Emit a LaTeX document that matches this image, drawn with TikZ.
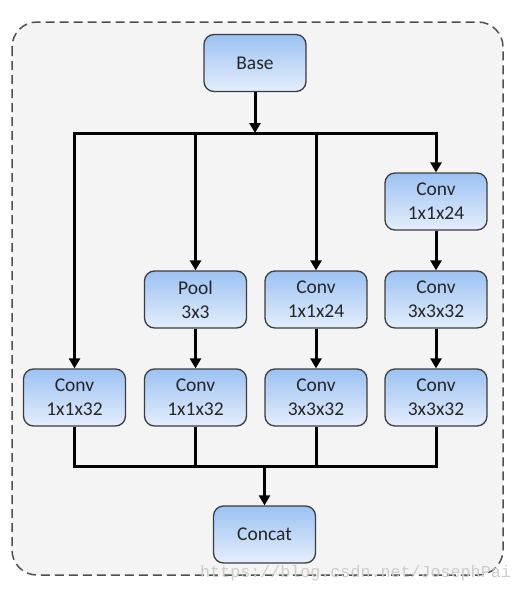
\documentclass[tikz,border=0pt]{standalone}
\usepackage{fontspec}
\setmainfont{Carlito}
\newfontfamily\markfont{Liberation Mono}
\usetikzlibrary{arrows.meta}
\usetikzlibrary{positioning}
\usetikzlibrary{backgrounds}
\definecolor{boxtop}{HTML}{9CC2F3}
\definecolor{boxbot}{HTML}{E4EEFB}
\definecolor{boxline}{HTML}{3C3C3C}
\definecolor{panel}{HTML}{F4F4F4}
\definecolor{frame}{HTML}{505050}

\begin{document}
\begin{tikzpicture}[x=1pt, y=-1pt,
        layer/.style={rectangle, rounded corners=10pt, draw=boxline, line width=1.3pt,
            top color=boxtop, bottom color=boxbot, minimum width=102pt, minimum height=57pt,
            align=center, text=black!85, font=\fontsize{19.5}{24}\selectfont},
        flow/.style={line width=3pt, -{Triangle[length=10pt, width=11pt]}},
        bus/.style={line width=3pt}]
        \useasboundingbox (0,0) rectangle (523,589);
        \node[layer] (base) at (255,63) {Base};
        \node[layer] (a1) at (74.5,397.5) {Conv\\1x1x32};
        \node[layer] (b1) at (195.5,299.5) {Pool\\3x3};
        \node[layer] (b2) at (195.5,397.5) {Conv\\1x1x32};
        \node[layer] (c1) at (316,299.5) {Conv\\1x1x24};
        \node[layer] (c2) at (316,397.5) {Conv\\3x3x32};
        \node[layer] (d1) at (436,201.5) {Conv\\1x1x24};
        \node[layer] (d2) at (436,299.5) {Conv\\3x3x32};
        \node[layer] (d3) at (436,397.5) {Conv\\3x3x32};
        \node[layer] (concat) at (264.5,534.5) {Concat};
        \coordinate (split) at (255,133);
        \coordinate (merge) at (264.5,466);
        \draw[flow] (base) -- (split);
        \draw[bus, line cap=rect]
            (a1 |- split) -- (d1 |- split);
        \draw[flow]
            (a1 |- split) -- (a1);
        \draw[flow]
            (b1 |- split) -- (b1);
        \draw[flow]
            (c1 |- split) -- (c1);
        \draw[flow]
            (d1 |- split) -- (d1);
        \draw[flow] (b1) -- (b2);
        \draw[flow] (c1) -- (c2);
        \draw[flow] (d1) -- (d2);
        \draw[flow] (d2) -- (d3);
        \draw[bus, line join=miter]
            (a1.south) -- (a1 |- merge) -- (d3 |- merge) -- (d3.south);
        \draw[bus]
            (b2.south) -- (b2 |- merge)
            (c2.south) -- (c2 |- merge);
        \draw[flow] (merge) -- (concat);
        \begin{scope}[on background layer]
            \draw[frame, fill=panel, line width=1.5pt, dash pattern=on 9pt off 5pt, rounded corners=25pt]
                (12,22) rectangle (503,575);
        \end{scope}
        \node[anchor=base west, inner sep=0, text=black!20, font=\markfont\fontsize{16.7}{18}\selectfont]
            (mark) at (200,577) {https://blog.csdn.net/JosephPai};
    \end{tikzpicture}
\end{document}
